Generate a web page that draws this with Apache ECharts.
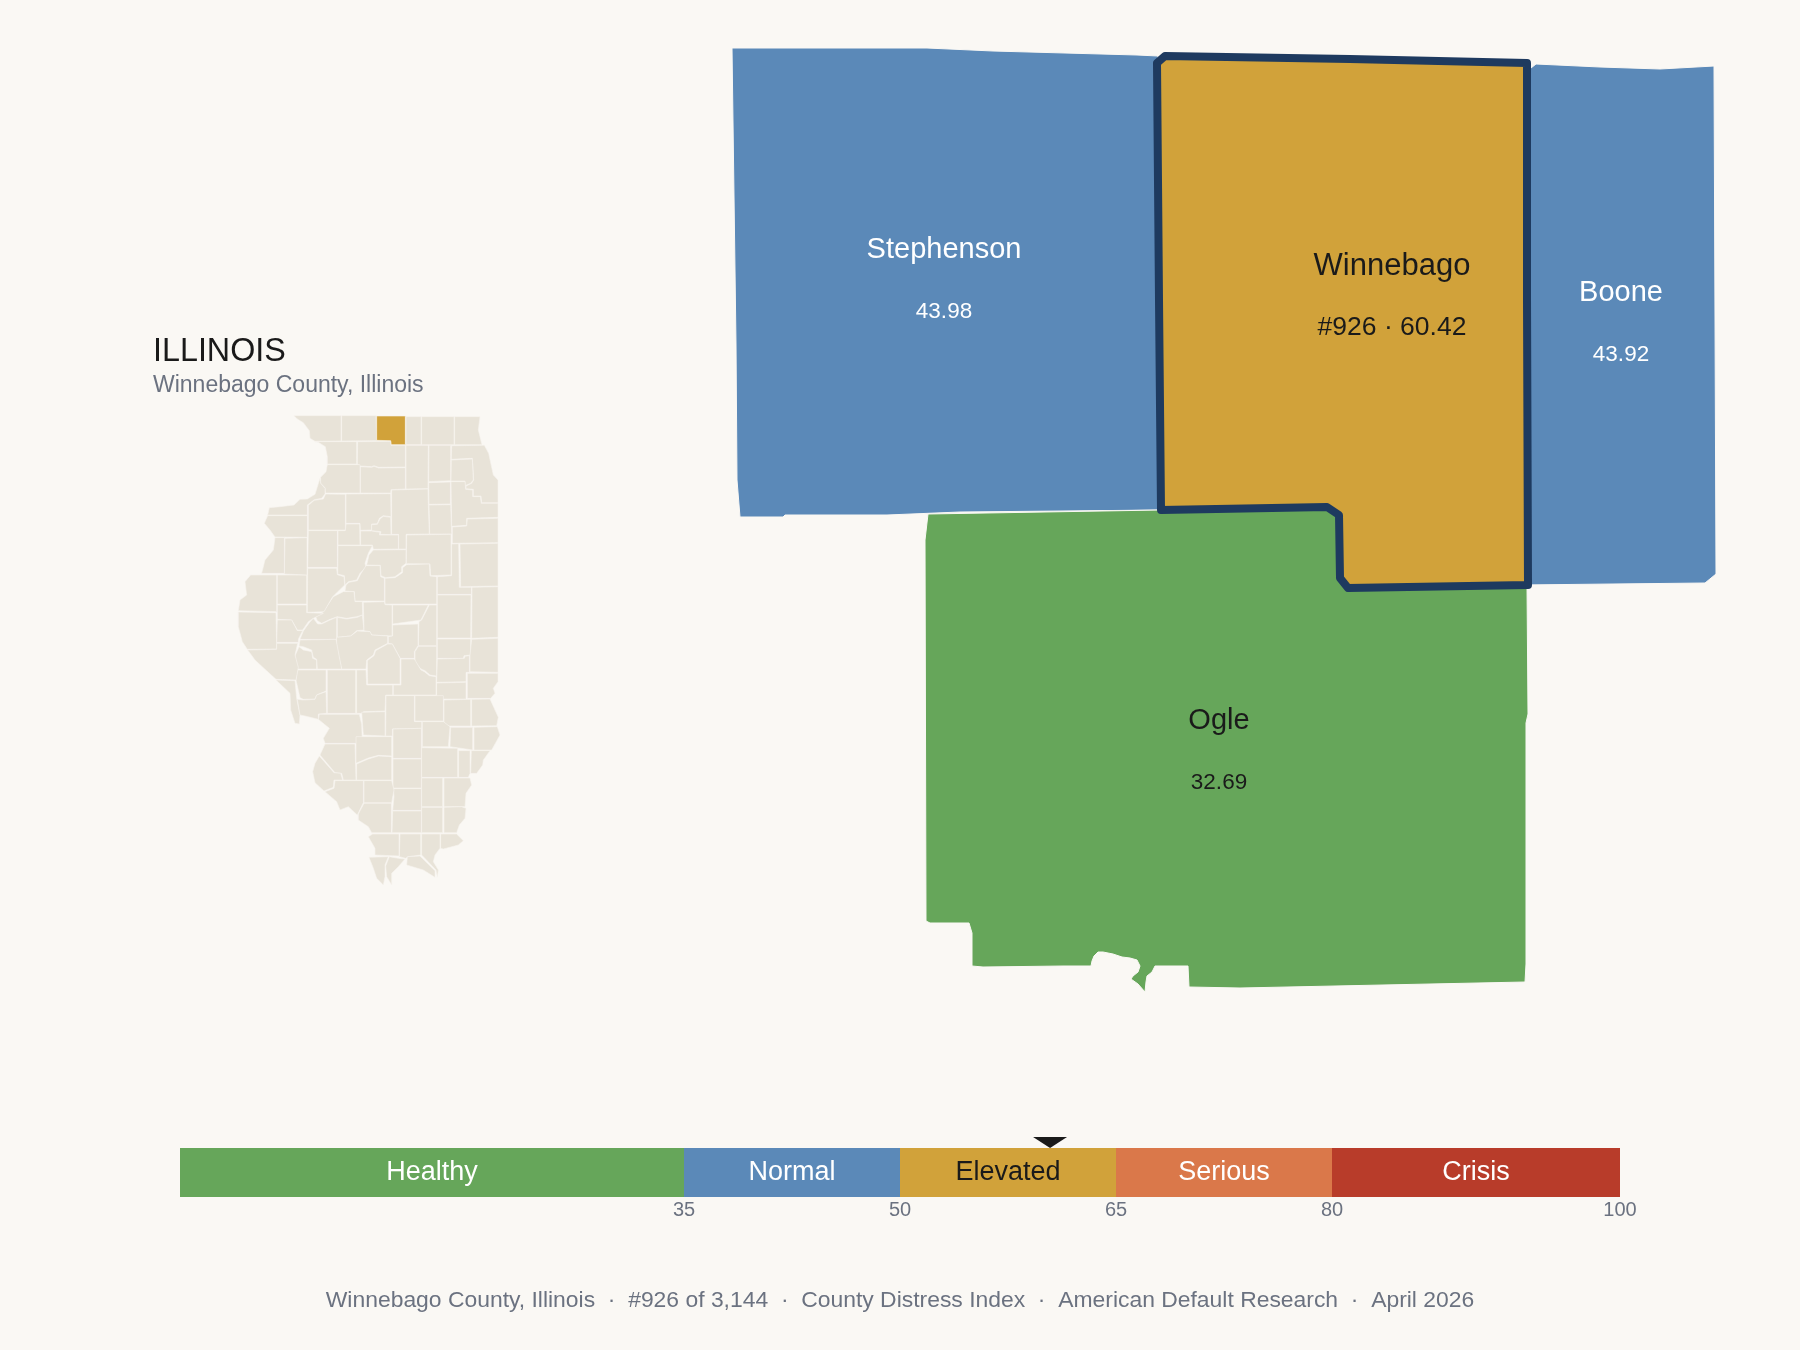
<!DOCTYPE html>
<html>
<head>
<meta charset="utf-8">
<title>Winnebago County, Illinois</title>
<script src="https://cdn.jsdelivr.net/npm/echarts@6/dist/echarts.min.js"></script>
<style>
  html, body { margin: 0; background: #faf8f4; }
  #chart { width: 1800px; height: 1350px; }
</style>
</head>
<body>
<div id="chart"></div>
<script>
// distress bands
var bandNames = ["Healthy", "Normal", "Elevated", "Serious", "Crisis"];
var bandSizes = [35, 15, 15, 15, 20];
var bandColors = ["#66a65a", "#5b89b8", "#d1a23a", "#da784a", "#b83c2a"];
var bandTicks = [35, 50, 65, 80, 100];

// county scores
var neighborNames = ["Stephenson", "Boone", "Ogle", "Winnebago"];
var neighborScores = [43.98, 43.92, 32.69, 60.42];
var focusName = "Winnebago";
var focusRank = 926;

// traced county outlines, [x, y, x, y, ...] in map units, y downwards
var neighborShapes = {
  Stephenson: [732,48, 927,48, 993,51, 1137,55, 1158,56, 1162,510, 960,512, 887,515, 785,515, 783,517, 740,517, 737,480, 736,344],
  Boone: [1522,70, 1531,68, 1536,64, 1600,67, 1660,69, 1714,66, 1716,574, 1705,583, 1520,585],
  Ogle: [928,514, 1160,510, 1327,507, 1339,515, 1340,578, 1348,588, 1527,586, 1528,714, 1526,723, 1526,964, 1525,982, 1240,988, 1189,987, 1188,966, 1155,966, 1152,972, 1147,976, 1146,982, 1145,992, 1138,984, 1131,979, 1133,976, 1138,972, 1140,966, 1137,960, 1130,958, 1122,957, 1113,954, 1103,952, 1098,952, 1094,956, 1092,961, 1091,966, 1063,966, 983,967, 972,966, 972,933, 969,923, 930,923, 926,921, 925,540],
  Winnebago: [1165,56, 1350,59, 1527,63, 1527,300, 1528,585, 1348,588, 1340,578, 1339,515, 1327,507, 1161,510, 1159,300, 1157,63]
};
var neighborLabelAt = {
  Stephenson: [944, 281],
  Boone: [1621, 324],
  Ogle: [1219, 752],
  Winnebago: [1392, 297]
};

// small state map, traced in two sheets; the south sheet sits southSheetOffset lower
var southSheetOffset = 690;
var northCounties = {
  JoDaviess: [222,47, 363,47, 363,123, 285,124, 270,115, 268,92, 250,68, 232,57],
  Stephenson: [365,47, 468,47, 470,122, 365,123],
  Winnebago: [470,48, 556,48, 556,134, 513,134, 512,122, 470,121],
  Boone: [558,50, 603,50, 603,134, 558,134],
  McHenry: [605,50, 702,50, 702,134, 605,134],
  Lake: [704,50, 780,50, 775,90, 786,134, 704,134],
  Carroll: [285,125, 410,125, 410,192, 322,192, 322,170, 316,140, 295,127],
  Ogle: [413,125, 512,124, 513,136, 556,136, 556,201, 476,202, 462,197, 455,200, 421,198, 412,192],
  DeKalb: [558,136, 625,136, 624,266, 558,267],
  Kane: [627,136, 692,136, 692,242, 626,245],
  Cook: [695,137, 793,136, 806,160, 820,225, 834,240, 834,308, 785,308, 783,288, 760,288, 760,268, 738,266, 738,258, 755,250, 761,240, 757,175, 694,178],
  DuPage: [694,180, 757,177, 760,240, 752,250, 735,257, 735,243, 693,243],
  Will: [693,245, 735,245, 737,268, 758,270, 758,290, 781,290, 784,310, 834,310, 834,352, 740,355, 740,376, 695,379],
  Kendall: [626,248, 691,246, 691,312, 627,313],
  Grundy: [627,315, 692,314, 695,402, 629,402],
  LaSalle: [515,270, 624,267, 625,312, 628,402, 558,403, 558,447, 536,447, 536,403, 515,403],
  Lee: [421,200, 455,202, 462,199, 476,204, 556,203, 556,267, 513,269, 512,279, 421,279],
  Whiteside: [322,194, 420,194, 420,279, 316,279, 315,263, 302,250, 302,232, 318,215],
  RockIsland: [300,235, 285,283, 262,297, 240,298, 222,315, 180,320, 148,323, 143,345, 262,345, 262,315, 283,299, 305,295, 315,282, 315,265, 302,250],
  Henry: [265,316, 283,301, 310,297, 317,282, 376,283, 376,390, 265,390],
  Bureau: [378,282, 512,281, 513,350, 490,347, 478,355, 472,371, 455,372, 455,390, 421,391, 420,370, 378,370],
  Putnam: [455,374, 472,373, 480,357, 490,349, 512,352, 513,404, 480,403, 483,395, 455,392],
  Mercer: [133,370, 143,347, 262,347, 262,412, 165,411, 150,390],
  Knox: [265,392, 352,392, 352,502, 263,502],
  Stark: [354,392, 376,392, 378,372, 419,372, 420,435, 354,435],
  Marshall: [422,393, 455,393, 480,397, 478,405, 535,405, 535,447, 460,448, 457,435, 422,435],
  Peoria: [354,437, 457,437, 445,460, 435,490, 438,502, 420,520, 410,540, 385,545, 375,555, 373,527, 353,522],
  Woodford: [460,450, 558,449, 558,490, 545,500, 545,515, 525,530, 497,533, 483,527, 481,496, 440,495, 447,465],
  Livingston: [560,405, 693,403, 693,525, 632,527, 630,492, 559,491],
  Kankakee: [697,381, 740,378, 742,357, 834,355, 834,428, 697,430],
  Iroquois: [720,432, 834,430, 834,558, 722,560],
  Ford: [695,432, 716,431, 718,562, 754,562, 754,583, 652,583, 652,530, 695,527],
  McLean: [495,535, 525,533, 548,518, 548,503, 560,494, 628,492, 630,528, 650,530, 650,612, 495,612],
  Tazewell: [438,497, 480,497, 482,530, 493,535, 493,603, 405,603, 403,575, 375,573, 378,555, 387,547, 412,542, 422,522],
  Mason: [370,575, 402,575, 405,605, 427,605, 428,645, 410,650, 380,655, 352,650, 330,658, 305,670, 292,662, 287,650, 310,635, 340,590],
  Fulton: [263,505, 350,505, 352,524, 372,530, 374,555, 338,590, 312,635, 262,637],
  McDonough: [172,525, 260,525, 260,612, 172,612],
  Hancock: [92,525, 170,525, 170,635, 55,632, 60,600, 80,585, 75,545],
  Warren: [195,415, 261,413, 261,525, 193,522],
  Henderson: [165,413, 193,413, 193,520, 125,520, 135,480, 160,450],
  Schuyler: [172,615, 260,615, 260,638, 310,640, 280,655, 265,665, 248,690, 232,690, 215,660, 172,658],
  Adams: [55,636, 168,638, 170,747, 82,748, 67,725, 55,680],
  Brown: [172,660, 215,660, 232,692, 248,692, 235,718, 235,727, 170,727],
  Cass: [240,718, 250,693, 268,668, 280,655, 293,672, 305,672, 330,660, 350,652, 350,718],
  Menard: [352,652, 380,657, 412,652, 427,645, 432,690, 410,692, 392,708, 352,712],
  Logan: [430,607, 493,605, 495,614, 516,615, 516,708, 455,705, 450,695, 432,692],
  DeWitt: [518,615, 625,615, 603,660, 518,672],
  Piatt: [605,660, 628,615, 650,615, 650,737, 595,737, 597,665],
  Macon: [518,675, 594,672, 594,737, 583,755, 583,775, 541,775, 517,732, 505,730, 505,710, 518,708],
  Champaign: [652,585, 753,585, 752,714, 652,714],
  Vermilion: [756,562, 834,560, 834,712, 755,715]
};
var southCounties = {
  Sangamon: [350,22, 392,18, 412,3, 450,5, 455,15, 503,18, 503,40, 465,60, 460,75, 440,90, 438,117, 365,117, 350,50],
  Christian: [442,92, 462,77, 467,62, 503,42, 517,42, 540,85, 540,162, 443,162],
  Moultrie: [595,49, 650,49, 650,138, 630,135, 615,122, 603,117, 585,97, 585,65],
  Douglas: [652,27, 752,27, 752,75, 732,77, 730,85, 652,85],
  Edgar: [755,28, 834,25, 834,127, 750,125, 750,75],
  Coles: [652,87, 733,85, 735,79, 748,77, 748,127, 738,127, 738,155, 650,157],
  Clark: [742,130, 834,130, 834,155, 820,175, 825,190, 812,205, 742,205],
  Cumberland: [650,159, 738,157, 738,207, 650,207],
  Shelby: [543,87, 583,87, 603,120, 613,125, 628,137, 648,140, 648,195, 520,195, 520,165, 543,165],
  Montgomery: [410,120, 438,120, 440,165, 518,165, 518,195, 497,195, 495,243, 430,245, 430,250, 410,250],
  Macoupin: [322,120, 407,120, 407,250, 322,250],
  Greene: [232,120, 318,120, 318,183, 290,195, 285,207, 250,208, 240,203, 228,150],
  Scott: [225,78, 237,50, 250,60, 275,65, 278,85, 290,90, 290,117, 232,117],
  Morgan: [240,30, 348,28, 365,117, 292,117, 290,88, 280,82, 275,60, 250,50, 237,48],
  Pike: [83,60, 170,58, 170,40, 233,40, 225,75, 235,112, 228,150, 168,148, 135,118, 105,90],
  Calhoun: [168,150, 225,152, 230,205, 240,255, 238,282, 225,280, 212,240, 210,190],
  Jersey: [232,208, 250,210, 285,208, 290,195, 318,185, 320,250, 295,252, 295,268, 255,258, 240,255],
  Madison: [298,253, 418,253, 425,283, 427,340, 315,340, 310,325, 328,295, 295,268],
  Bond: [425,247, 495,245, 495,318, 430,315],
  Fayette: [498,197, 583,197, 583,275, 605,275, 605,295, 517,297, 517,318, 497,318],
  Effingham: [585,197, 670,197, 670,273, 585,273],
  Jasper: [672,210, 752,208, 752,288, 672,288],
  Crawford: [755,208, 810,207, 825,240, 835,262, 830,287, 755,288],
  Clay: [607,275, 670,275, 690,290, 685,350, 607,350],
  Richland: [692,292, 758,292, 758,360, 690,350],
  Lawrence: [762,292, 832,290, 840,315, 815,360, 762,360],
  StClair: [315,342, 405,342, 408,450, 370,450, 365,430, 345,428, 300,375],
  Monroe: [298,378, 342,428, 362,430, 368,450, 342,450, 340,472, 312,483, 285,458, 278,425, 285,400],
  Clinton: [408,320, 515,320, 515,378, 475,376, 445,384, 408,400],
  Washington: [410,402, 445,387, 475,378, 515,380, 515,450, 410,450],
  Marion: [519,297, 604,295, 604,385, 519,385],
  Jefferson: [519,387, 604,387, 604,474, 519,474],
  Wayne: [605,353, 713,355, 713,442, 605,442],
  Edwards: [716,362, 750,362, 750,430, 745,442, 716,442],
  Wabash: [754,362, 810,362, 790,390, 788,405, 770,430, 752,430],
  White: [672,444, 750,444, 755,465, 738,490, 735,530, 672,530],
  Hamilton: [605,444, 668,444, 668,530, 605,530],
  Franklin: [520,476, 604,476, 604,541, 518,541, 522,500],
  Perry: [432,452, 515,452, 522,480, 515,518, 432,518],
  Randolph: [345,452, 430,452, 430,518, 412,555, 385,530, 360,540, 350,515, 315,485, 342,475],
  Jackson: [432,520, 514,520, 514,608, 455,608, 445,590, 415,570, 415,552],
  Williamson: [518,543, 604,543, 604,608, 516,608],
  Saline: [605,532, 668,532, 668,608, 605,608],
  Gallatin: [672,532, 725,530, 738,535, 735,565, 718,585, 710,608, 672,608],
  Hardin: [662,612, 710,612, 730,632, 715,645, 670,657, 662,655],
  Pope: [605,612, 660,612, 660,655, 645,675, 640,695, 655,720, 652,742, 648,720, 605,675],
  Johnson: [540,612, 602,612, 602,675, 565,680, 557,685, 538,680],
  Union: [458,612, 537,612, 537,678, 465,675, 465,655, 445,620],
  Alexander: [447,682, 505,680, 495,705, 495,740, 490,765, 470,745, 460,715],
  Pulaski: [508,680, 535,685, 555,687, 535,710, 515,730, 515,765, 500,740, 497,708],
  Massac: [562,680, 600,678, 645,722, 645,742, 610,720, 560,705]
};

var fontName = '"Liberation Sans", Arial, sans-serif';
var inkColor = "#1a1a1a";
var grayColor = "#6b7280";
var backgroundColor = "#faf8f4";

// pick the band a score falls in
function bandColor(score) {
  var top = 0;
  for (var i = 0; i < bandSizes.length; i++) {
    top += bandSizes[i];
    if (score < top) return bandColors[i];
  }
  return bandColors[bandColors.length - 1];
}

// turn a flat outline into a geojson feature, latitude is just -y here
function toFeature(name, flat, yShift, labelAt) {
  var ring = [];
  for (var i = 0; i < flat.length; i += 2) {
    ring.push([flat[i], -(flat[i + 1] + yShift)]);
  }
  ring.push(ring[0]);
  var properties = { name: name };
  if (labelAt) properties.cp = [labelAt[0], -labelAt[1]];
  return {
    type: "Feature",
    properties: properties,
    geometry: { type: "Polygon", coordinates: [ring] }
  };
}

var neighborFeatures = neighborNames.map(function (name) {
  return toFeature(name, neighborShapes[name], 0, neighborLabelAt[name]);
});
var stateFeatures = [];
Object.keys(northCounties).forEach(function (name) {
  stateFeatures.push(toFeature(name, northCounties[name], 0));
});
Object.keys(southCounties).forEach(function (name) {
  stateFeatures.push(toFeature(name, southCounties[name], southSheetOffset));
});
echarts.registerMap("neighbors", { type: "FeatureCollection", features: neighborFeatures });
echarts.registerMap("illinois", { type: "FeatureCollection", features: stateFeatures });

var neighborData = neighborNames.map(function (name, i) {
  var isFocus = name === focusName;
  var dark = isFocus || name === "Ogle";
  return {
    name: name,
    value: neighborScores[i],
    itemStyle: {
      areaColor: bandColor(neighborScores[i]),
      borderColor: isFocus ? "#1e3a5f" : backgroundColor,
      borderWidth: isFocus ? 8 : 1,
      borderJoin: "round"
    },
    label: {
      rich: {
        n: { fontFamily: fontName, fontSize: isFocus ? 31 : 29, lineHeight: 62, color: dark ? inkColor : "#fff" },
        v: { fontFamily: fontName, fontSize: isFocus ? 26.5 : 22.5, lineHeight: 62, color: dark ? inkColor : "#fff" }
      }
    }
  };
});

var bandSeries = bandNames.map(function (name, i) {
  return {
    type: "bar",
    name: name,
    stack: "bands",
    barWidth: "100%",
    silent: true,
    data: [bandSizes[i]],
    itemStyle: { color: bandColors[i] },
    label: {
      show: true,
      position: "inside",
      formatter: name,
      fontFamily: fontName,
      fontSize: 27,
      color: name === "Elevated" ? inkColor : "#fff"
    }
  };
});

var option = {
  backgroundColor: backgroundColor,
  animation: false,
  textStyle: { fontFamily: fontName },
  title: [
    {
      text: "ILLINOIS",
      left: 153,
      top: 336,
      padding: 0,
      textStyle: { fontFamily: fontName, fontSize: 32.3, fontWeight: "normal", color: inkColor }
    },
    {
      text: "Winnebago County, Illinois",
      left: 153,
      top: 374,
      padding: 0,
      textStyle: { fontFamily: fontName, fontSize: 23, fontWeight: "normal", color: grayColor }
    },
    {
      text: "Winnebago County, Illinois  \u00b7  #" + focusRank + " of 3,144  \u00b7  County Distress Index  \u00b7  American Default Research  \u00b7  April 2026",
      left: 900,
      top: 1289,
      padding: 0,
      textAlign: "center",
      textStyle: { fontFamily: fontName, fontSize: 22.9, fontWeight: "normal", color: grayColor }
    }
  ],
  grid: { left: 180, width: 1440, top: 1148, height: 49 },
  xAxis: {
    type: "value",
    min: 0,
    max: 100,
    splitLine: { show: false },
    axisLine: { show: false },
    axisTick: { show: false },
    axisLabel: {
      customValues: bandTicks,
      margin: 3,
      fontFamily: fontName,
      fontSize: 20,
      color: grayColor
    }
  },
  yAxis: {
    type: "category",
    data: ["index"],
    show: false
  },
  series: bandSeries.concat([
    {
      type: "scatter",
      silent: true,
      symbol: "triangle",
      symbolRotate: 180,
      symbolSize: [34, 11],
      symbolOffset: [0, -30],
      itemStyle: { color: inkColor, opacity: 1 },
      data: [[neighborScores[3], "index"]],
      z: 5
    },
    {
      type: "map",
      map: "neighbors",
      silent: true,
      aspectScale: 1,
      boundingCoords: [[0, 0], [1800, -1350]],
      left: 0,
      top: 0,
      width: 1800,
      height: 1350,
      label: {
        show: true,
        formatter: function (p) {
          var text = p.name === focusName ? "#" + focusRank + " \u00b7 " + p.value.toFixed(2) : p.value.toFixed(2);
          return "{n|" + p.name + "}\n{v|" + text + "}";
        }
      },
      emphasis: { disabled: true },
      data: neighborData
    },
    {
      type: "map",
      map: "illinois",
      silent: true,
      aspectScale: 1,
      boundingCoords: [[0, 0], [900, -1500]],
      left: 220,
      top: 400,
      width: 300,
      height: 500,
      label: { show: false },
      emphasis: { disabled: true },
      itemStyle: { areaColor: "#e8e3d8", borderColor: "#f6f4ee", borderWidth: 0.6 },
      data: [{ name: focusName, itemStyle: { areaColor: bandColors[2] } }]
    }
  ])
};

var myChart = echarts.init(document.getElementById("chart"));
myChart.setOption(option);
</script>
</body>
</html>
